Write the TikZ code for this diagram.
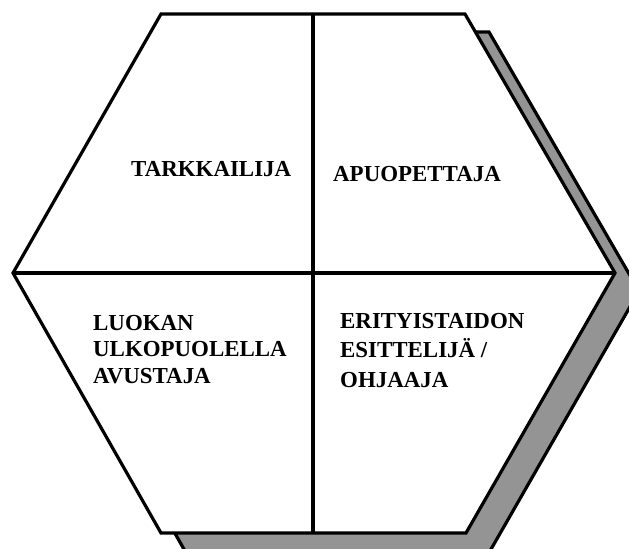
\documentclass[tikz,border=0pt]{standalone}
\usepackage{fontspec}
\setmainfont{Liberation Serif}

\begin{document}
\begin{tikzpicture}[x=1bp,y=-1bp]
    \tikzset{
        edge/.style={line width=3.2bp},
        rolelabel/.style={font=\fontsize{23}{27}\selectfont\bfseries, align=left, inner sep=0pt, anchor=base west}
    }
    \useasboundingbox (0,0) rectangle (629,549);

    % Shadow
    \fill[black!42] (185,32) -- (489,32) -- (639,291) -- (490,551) -- (185,551) -- (37,291) -- cycle;
    \draw[edge] (185,32) -- (489,32) -- (639,291) -- (490,551) -- (185,551) -- (37,291) -- cycle;

    % Hexagon
    \filldraw[edge, fill=white] (161,14) -- (465,14) -- (615,273) -- (466,533) -- (161,533) -- (13,273) -- cycle;

    % Dividers
    \coordinate (top) at (313,14);
    \coordinate (bottom) at (313,533);
    \coordinate (left) at (13,273);
    \coordinate (right) at (615,273);
    \draw[edge] (top) -- (bottom);
    \draw[edge] (left) -- (right);

    % Labels
    \node[rolelabel] (observer) at (131,177) {TARKKAILIJA};
    \node[rolelabel] (assistant) at (333,182) {APUOPETTAJA};
    \node[rolelabel, anchor=north west, font=\fontsize{23}{26.5}\selectfont\bfseries] (helper) at (93,315) {LUOKAN\\ULKOPUOLELLA\\AVUSTAJA};
    \node[rolelabel, anchor=north west, font=\fontsize{23}{29.5}\selectfont\bfseries] (expert) at (340,313) {ERITYISTAIDON\\ESITTELIJÄ /\\OHJAAJA};
\end{tikzpicture}
\end{document}
